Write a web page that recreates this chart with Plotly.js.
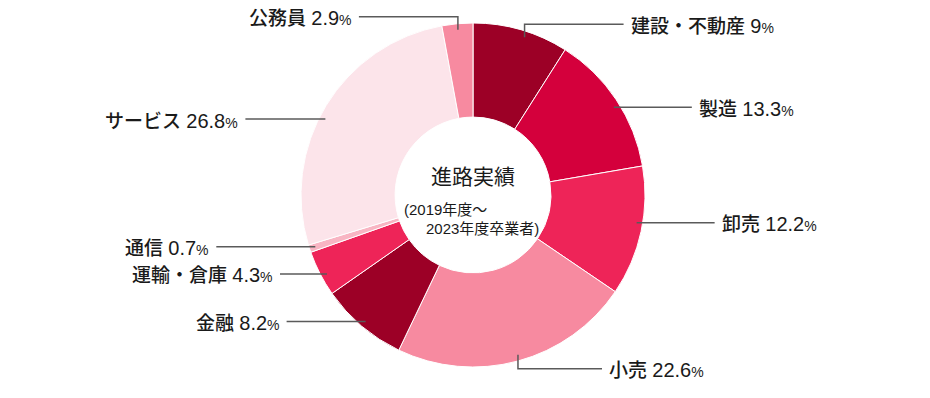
<!DOCTYPE html>
<html>
<head>
<meta charset="utf-8">
<script src="https://cdn.plot.ly/plotly-3.0.1.min.js"></script>
<style>html,body{margin:0;padding:0;background:#fff;}#chart{width:930px;height:398px;}</style>
</head>
<body>
<div id="chart"></div>
<script>
// ---- data ----
const categories = ["建設・不動産", "製造", "卸売", "小売", "金融", "運輸・倉庫", "通信", "サービス", "公務員"];
const percents   = [9, 13.3, 12.2, 22.6, 8.2, 4.3, 0.7, 26.8, 2.9];
const valueLabels = ["9", "13.3", "12.2", "22.6", "8.2", "4.3", "0.7", "26.8", "2.9"];
const centerTitle = "進路実績";
const centerSub1 = "(2019年度～";
const centerSub2 = "2023年度卒業者)";

// ---- styles / layout ----
const sliceColors = ["#9c0026", "#d4003c", "#ee2458", "#f78aa0", "#9c0026", "#ee2458", "#f8b5c3", "#fce4ea", "#f78aa0"];
// per-label leader-line layout: angle nudge (deg), vertical segment (px, negative = up), horizontal length (px)
const leader = [
  {dA: 1.9,  rise: -13, len: 99},
  {dA: 1.7,  rise: 0,   len: 78},
  {dA: -2.6, rise: 0,   len: 78},
  {dA: -0.6, rise: 14,  len: 84},
  {dA: 0,    rise: 0,   len: 79},
  {dA: -1.2, rise: 0,   len: 47},
  {dA: 0,    rise: 0,   len: 99},
  {dA: -4.1, rise: 0,   len: 80},
  {dA: 0,    rise: -13, len: 99}
];
const W = 930, H = 398;
const CX = 473, CY = 195, R = 172, HOLE = 0.453;
const FONT = '"Noto Sans CJK JP", "Noto Sans", sans-serif';
const NUM_FONT = '"Liberation Sans", "Noto Sans CJK JP", sans-serif';
const TXT = "#1a1a1a", LINE = "#5a5a5a";

const px = x => x / W;
const py = y => 1 - y / H;

const total = percents.reduce((a, b) => a + b, 0);
const shapes = [], annotations = [];
let cum = 0;
percents.forEach((v, i) => {
  const mid = (cum + v / 2) / total * 360 + leader[i].dA;
  cum += v;
  const t = mid * Math.PI / 180;
  const ar = R * 0.965;
  const ax = CX + ar * Math.sin(t), ay = CY - ar * Math.cos(t);
  const dir = Math.sin(t) >= 0 ? 1 : -1;
  const ey = ay + leader[i].rise;
  const ex = ax + dir * leader[i].len;
  let path = `M ${px(ax)},${py(ay)}`;
  if (leader[i].rise !== 0) path += ` L ${px(ax)},${py(ey)}`;
  path += ` L ${px(ex)},${py(ey)}`;
  shapes.push({type: "path", xref: "paper", yref: "paper", path: path, line: {color: LINE, width: 1.5}});
  annotations.push({
    xref: "paper", yref: "paper", x: px(ex + dir * 5), y: py(ey),
    xanchor: dir > 0 ? "left" : "right", yanchor: "middle", showarrow: false,
    text: `<span style="font-family:'Noto Sans CJK JP';font-weight:500">${categories[i]}</span> <span style="font-size:20px">${valueLabels[i]}</span><span style="font-size:14px">%</span>`,
    font: {family: NUM_FONT, size: 19, color: TXT}
  });
});

annotations.push({xref: "paper", yref: "paper", x: px(CX), y: py(CY - 20), xanchor: "center", yanchor: "middle",
  showarrow: false, text: centerTitle, font: {family: FONT, size: 21, color: TXT}});
annotations.push({xref: "paper", yref: "paper", x: px(CX - 71), y: py(CY + 15), xanchor: "left", yanchor: "middle",
  showarrow: false, text: centerSub1, font: {family: NUM_FONT, size: 15, color: TXT}});
annotations.push({xref: "paper", yref: "paper", x: px(CX + 68), y: py(CY + 33), xanchor: "right", yanchor: "middle",
  showarrow: false, text: centerSub2, font: {family: NUM_FONT, size: 15, color: TXT}});

const trace = {
  type: "pie",
  labels: categories,
  values: percents,
  sort: false,
  direction: "clockwise",
  rotation: 0,
  hole: HOLE,
  textinfo: "none",
  hoverinfo: "label+percent",
  marker: {colors: sliceColors, line: {color: "#ffffff", width: 1}},
  domain: {x: [px(CX - R), px(CX + R)], y: [py(CY + R), py(CY - R)]},
  showlegend: false
};

Plotly.newPlot("chart", [trace], {
  width: W, height: H,
  margin: {l: 0, r: 0, t: 0, b: 0},
  paper_bgcolor: "#ffffff",
  showlegend: false,
  shapes: shapes,
  annotations: annotations,
  font: {family: FONT}
}, {displayModeBar: false, staticPlot: true});
</script>
</body>
</html>
